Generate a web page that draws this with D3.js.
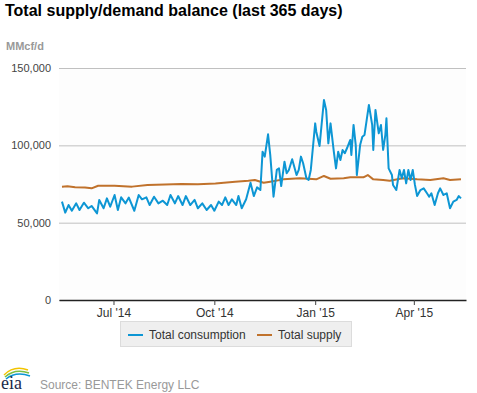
<!DOCTYPE html>
<html>
<head>
<meta charset="utf-8">
<script src="https://cdn.jsdelivr.net/npm/d3@7"></script>
<style>
  body { margin: 0; background: #fff; }
  svg { display: block; font-family: "Liberation Sans", Arial, sans-serif; }
</style>
</head>
<body>
<svg id="chart" width="477" height="393"></svg>
<script>
// Series start date; day offsets below count from here
const startDate = new Date(2014, 4, 15);

// Total consumption (day offset, MMcf/d)
const consDays = [0, 3, 6, 9, 13, 16, 20, 24, 27, 32, 34, 38, 41, 44, 48, 51, 54, 58, 61, 66,
  70, 73, 77, 80, 84, 88, 92, 96, 99, 103, 106, 110, 113, 117, 121, 124, 128, 132, 136, 139,
  143, 146, 149, 152, 155, 159, 161, 164, 168, 172, 175, 178, 181, 183, 185, 188, 190, 193, 196, 198,
  200, 203, 205, 207, 210, 214, 216, 218, 220, 223, 225, 227, 231, 232, 235, 239, 241, 243, 245, 248,
  250, 252, 254, 256, 258, 260, 263, 264, 266, 268, 269, 272, 274, 276, 278, 280, 283, 284, 286, 289,
  291, 293, 295, 296, 298, 301, 302, 305, 308, 310, 312, 314, 316, 318, 320, 322, 324, 327, 330, 333,
  335, 337, 340, 343, 345, 348, 351, 354, 357, 360, 362, 364];
const consValues = [63600, 56500, 61400, 57700, 62500, 58200, 62900, 59300, 60800, 56000, 64700, 59300, 65700, 60300, 67900, 58200, 66400, 62500, 66200, 57700,
  67900, 65100, 66400, 61400, 66800, 62500, 64200, 61400, 67900, 62500, 67200, 61400, 67200, 61400, 64700, 59300, 62500, 58200, 61400, 57700,
  63600, 61400, 66400, 61400, 65100, 61400, 67200, 59300, 65100, 75800, 67200, 72800, 71100, 95900, 92700, 107100, 93800, 66800, 84100, 85100,
  73700, 89400, 81900, 84100, 91000, 80800, 84100, 92700, 88400, 78700, 77600, 84100, 114200, 108800, 99600, 129300, 122900, 101300, 114200, 95900,
  85100, 95900, 90500, 97000, 94900, 98100, 103500, 93800, 113200, 100200, 80800, 100200, 105600, 106700, 116400, 126100, 113200, 97000, 122900, 107800,
  113200, 97000, 106700, 117500, 85100, 80800, 74400, 71100, 84100, 78700, 84100, 75400, 84100, 77600, 84100, 74400, 67200, 71100, 72200, 69000,
  66800, 69000, 61400, 69000, 72200, 67900, 69000, 59300, 63600, 64700, 67200, 65700];

// Total supply (day offset, MMcf/d)
const supplyDays = [0, 5, 12, 21, 27, 33, 48, 64, 78, 94, 109, 124, 140, 158, 170, 176, 184, 190, 202, 217,
  232, 239, 245, 257, 263, 275, 279, 284, 293, 299, 311, 324, 336, 348, 354, 364];
const supplyValues = [73300, 73500, 72900, 72700, 72200, 73900, 73900, 73300, 74400, 74600, 75000, 74800, 75400, 76500, 77100, 77600, 75800, 76500, 78000, 78700,
  78000, 80200, 78400, 78700, 79300, 79300, 80800, 78000, 77600, 77100, 78700, 78000, 77600, 78700, 77600, 78000];

const yTicks = [0, 50000, 100000, 150000];
const xTickDates = [new Date(2014, 6, 1), new Date(2014, 9, 1), new Date(2015, 0, 1), new Date(2015, 3, 1)];
const seriesNames = ["Total consumption", "Total supply"];
const seriesColors = ["#0d96d4", "#c0722c"];

const svg = d3.select("#chart");

const x = d3.scaleTime()
  .domain([d3.timeHour.offset(startDate, -65), d3.timeHour.offset(startDate, 368 * 24 + 14)])
  .range([59, 466]);
const y = d3.scaleLinear().domain([0, 150000]).range([300, 68]);

// Title and unit
svg.append("text").attr("x", 5).attr("y", 16)
  .attr("font-size", 16).attr("font-weight", "bold").attr("fill", "#000")
  .text("Total supply/demand balance (last 365 days)");
svg.append("text").attr("x", 6).attr("y", 50)
  .attr("font-size", 11).attr("font-weight", "bold").attr("fill", "#999")
  .text("MMcf/d");

// Plot background
svg.append("rect").attr("x", 59).attr("y", 68).attr("width", 407).attr("height", 232)
  .attr("fill", "#fdfdfd");

// Y axis with grid lines
const yAxis = svg.append("g").attr("transform", "translate(59,0)")
  .call(d3.axisLeft(y).tickValues(yTicks).tickFormat(d3.format(",")).tickSize(-407).tickPadding(8));
yAxis.select(".domain").remove();
yAxis.selectAll(".tick line").attr("stroke", "#c0c0c0");
yAxis.selectAll(".tick text").attr("font-size", 11).attr("fill", "#444")
  .attr("font-family", "Liberation Sans, Arial, sans-serif");

// X axis
const xAxis = svg.append("g").attr("transform", "translate(0,300)")
  .call(d3.axisBottom(x).tickValues(xTickDates).tickFormat(d3.timeFormat("%b '%y")).tickSize(5).tickSizeOuter(0).tickPadding(3));
xAxis.select(".domain").attr("stroke", "#222").attr("stroke-width", 1.5);
xAxis.selectAll(".tick line").attr("stroke", "#444");
xAxis.selectAll(".tick text").attr("font-size", 12).attr("fill", "#333")
  .attr("font-family", "Liberation Sans, Arial, sans-serif");

// Lines
const line = d3.line()
  .x(d => x(d3.timeDay.offset(startDate, d[0])))
  .y(d => y(d[1]));

svg.append("path")
  .datum(supplyDays.map((d, i) => [d, supplyValues[i]]))
  .attr("fill", "none").attr("stroke", seriesColors[1]).attr("stroke-width", 2)
  .attr("stroke-linejoin", "round").attr("d", line);

svg.append("path")
  .datum(consDays.map((d, i) => [d, consValues[i]]))
  .attr("fill", "none").attr("stroke", seriesColors[0]).attr("stroke-width", 2)
  .attr("stroke-linejoin", "round").attr("d", line);

// Legend
const legend = svg.append("g");
legend.append("rect").attr("x", 120.5).attr("y", 321.5).attr("width", 231).attr("height", 25)
  .attr("fill", "#efefef").attr("stroke", "#dcdcdc");
const legendX = [128, 257];
seriesNames.forEach((name, i) => {
  legend.append("line").attr("x1", legendX[i]).attr("x2", legendX[i] + 15)
    .attr("y1", 335).attr("y2", 335)
    .attr("stroke", seriesColors[i]).attr("stroke-width", 2);
  legend.append("text").attr("x", legendX[i] + 21).attr("y", 339)
    .attr("font-size", 12).attr("fill", "#333").text(name);
});

// EIA logo and source
const logo = svg.append("g");
logo.append("path").attr("d", "M4,375 Q14,365 28,370").attr("fill", "none")
  .attr("stroke", "#f2c400").attr("stroke-width", 1.5);
logo.append("path").attr("d", "M5,377 Q15,368 29,373").attr("fill", "none")
  .attr("stroke", "#7cbf42").attr("stroke-width", 1.5);
logo.append("path").attr("d", "M6,379 Q16,371 30,376").attr("fill", "none")
  .attr("stroke", "#0d96d4").attr("stroke-width", 1.5);
logo.append("text").attr("x", 1).attr("y", 389)
  .attr("font-family", "Liberation Serif, Times New Roman, serif")
  .attr("font-size", 18).attr("fill", "#1a2a4a").text("eia");
svg.append("text").attr("x", 40).attr("y", 389)
  .attr("font-size", 12).attr("fill", "#999")
  .text("Source: BENTEK Energy LLC");
</script>
</body>
</html>
